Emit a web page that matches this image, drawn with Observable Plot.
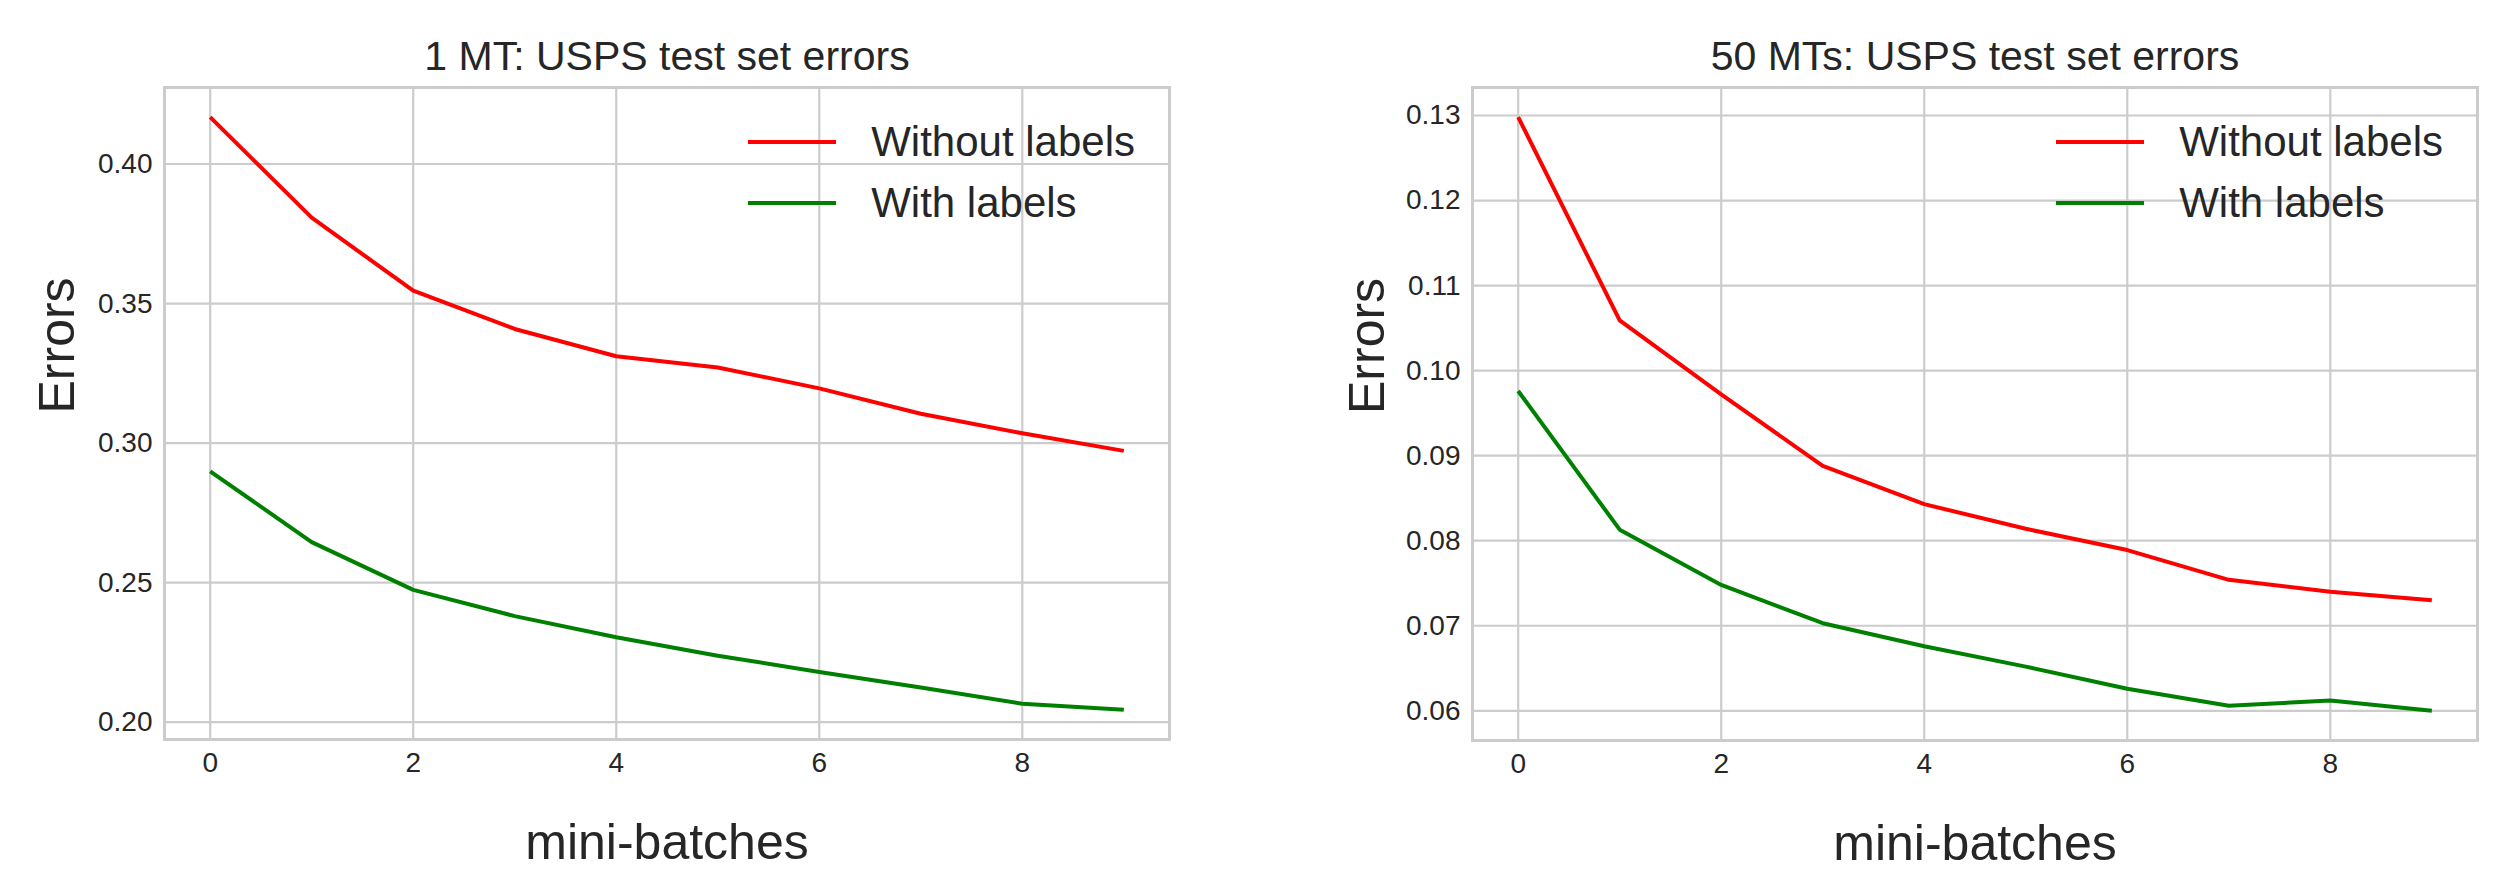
<!DOCTYPE html>
<html><head><meta charset="utf-8">
<script src="https://cdn.jsdelivr.net/npm/d3@7"></script>
<script src="https://cdn.jsdelivr.net/npm/@observablehq/plot@0.6"></script>
<style>
html,body{margin:0;padding:0;background:#fff;}
#root{position:relative;width:2509px;height:876px;overflow:hidden;font-family:"Liberation Sans",Arial,sans-serif;color:#262626;background:#fff;}
.panel{position:absolute;top:0;}
.legend{position:absolute;font-size:42px;color:#262626;}
.legend .row{display:flex;align-items:center;height:61px;line-height:61px;white-space:nowrap;}
.legend .swatch{width:88px;height:4px;margin-right:35px;flex:none;}
</style></head><body><div id="root"></div>
<script>
const batches = [0, 1, 2, 3, 4, 5, 6, 7, 8, 9];
const seriesNames = ["Without labels", "With labels"];
const seriesColors = ["#ff0000", "#008000"];
const mt1Without = [0.4168, 0.3808, 0.3546, 0.3409, 0.3311, 0.3271, 0.3196, 0.3105, 0.3035, 0.2972];
const mt1With = [0.2899, 0.2645, 0.2474, 0.2380, 0.2304, 0.2238, 0.2180, 0.2124, 0.2066, 0.2044];
const mt50Without = [0.1298, 0.1059, 0.0972, 0.0888, 0.0843, 0.0814, 0.0789, 0.0754, 0.0740, 0.0730];
const mt50With = [0.0976, 0.0813, 0.0748, 0.0703, 0.0676, 0.0652, 0.0626, 0.0606, 0.0612, 0.0600];
const xTicks = [0, 2, 4, 6, 8];
const mt1YTicks = [0.20, 0.25, 0.30, 0.35, 0.40];
const mt50YTicks = [0.06, 0.07, 0.08, 0.09, 0.10, 0.11, 0.12, 0.13];
const titles = ["1 MT: USPS test set errors", "50 MTs: USPS test set errors"];
const xLabel = "mini-batches";
const yLabel = "Errors";

const panels = [
  {title: titles[0], series: [mt1Without, mt1With], yTicks: mt1YTicks,
   left: 0, width: 1260, marginLeft: 164, marginRight: 91, marginTop: 87, marginBottom: 137, ylabelDx: -91},
  {title: titles[1], series: [mt50Without, mt50With], yTicks: mt50YTicks,
   left: 1260, width: 1249, marginLeft: 212, marginRight: 32, marginTop: 87, marginBottom: 136, ylabelDx: -89}
];

const root = document.getElementById("root");
const ink = "#262626";
const grid = "#cccccc";

for (const p of panels) {
  const rows = [];
  p.series.forEach((vals, si) => vals.forEach((v, i) => rows.push({batch: batches[i], value: v, series: seriesNames[si]})));
  const allVals = p.series.flat();
  const [lo, hi] = d3.extent(allVals);
  const pad = (hi - lo) * 0.05;
  const xPad = (d3.max(batches) - d3.min(batches)) * 0.05;

  const chart = Plot.plot({
    width: p.width,
    height: 876,
    marginLeft: p.marginLeft,
    marginRight: p.marginRight,
    marginTop: p.marginTop,
    marginBottom: p.marginBottom,
    style: {fontFamily: '"Liberation Sans", Arial, sans-serif', fontSize: "28px", color: ink, background: "white", overflow: "visible"},
    x: {domain: [d3.min(batches) - xPad, d3.max(batches) + xPad]},
    y: {domain: [lo - pad, hi + pad]},
    color: {domain: seriesNames, range: seriesColors},
    marks: [
      Plot.gridX(xTicks, {stroke: grid, strokeOpacity: 1, strokeWidth: 2.2}),
      Plot.gridY(p.yTicks, {stroke: grid, strokeOpacity: 1, strokeWidth: 2.2}),
      Plot.frame({stroke: grid, strokeOpacity: 1, strokeWidth: 3}),
      Plot.axisX(xTicks, {tickSize: 0, tickPadding: 13, label: null, fontSize: 28, fill: ink}),
      Plot.axisY(p.yTicks, {tickSize: 0, tickPadding: 12, label: null, fontSize: 28, fill: ink, tickFormat: d3.format(".2f")}),
      Plot.line(rows, {x: "batch", y: "value", z: "series", stroke: "series", strokeWidth: 4, strokeLinejoin: "round", strokeLinecap: "butt"}),
      Plot.text([p.title], {text: d => d, frameAnchor: "top", lineAnchor: "bottom", dy: -18, fontSize: 41, fill: ink}),
      Plot.text([yLabel], {text: d => d, frameAnchor: "left", lineAnchor: "bottom", rotate: -90, dx: p.ylabelDx, fontSize: 50, fill: ink}),
      Plot.text([xLabel], {text: d => d, frameAnchor: "bottom", lineAnchor: "bottom", dy: 119, fontSize: 50, fill: ink})
    ]
  });
  chart.classList.add("panel");
  chart.style.left = p.left + "px";
  root.appendChild(chart);

  // legend overlay (upper right inside the frame)
  const frameRight = p.left + p.width - p.marginRight;
  const legend = document.createElement("div");
  legend.className = "legend";
  legend.style.top = "111px";
  legend.style.right = (2509 - (frameRight - 34)) + "px";
  seriesNames.forEach((name, i) => {
    const row = document.createElement("div");
    row.className = "row";
    const sw = document.createElement("span");
    sw.className = "swatch";
    sw.style.background = seriesColors[i];
    const label = document.createElement("span");
    label.textContent = name;
    row.appendChild(sw);
    row.appendChild(label);
    legend.appendChild(row);
  });
  root.appendChild(legend);
}
</script></body></html>
